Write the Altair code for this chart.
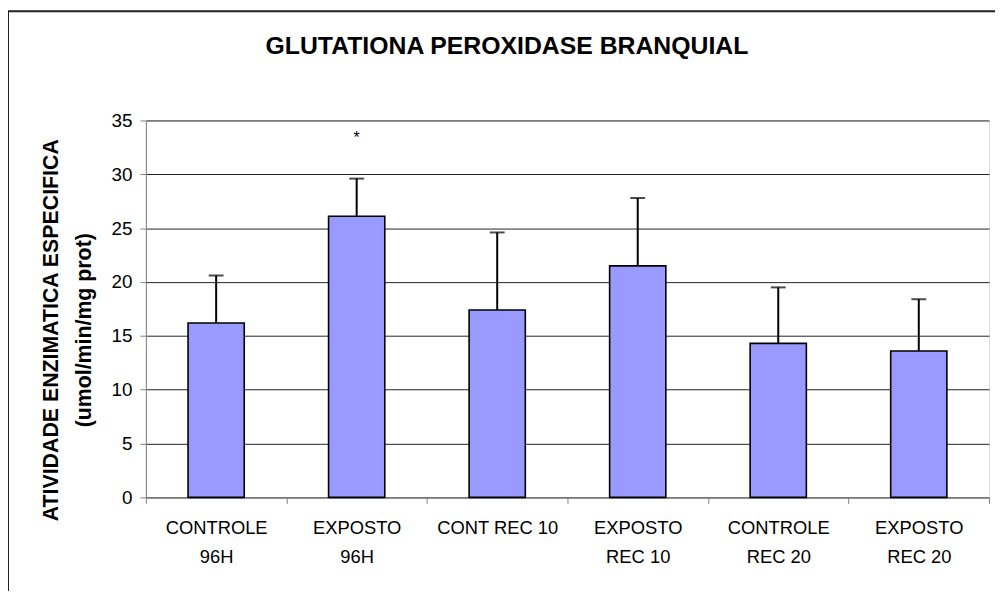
import altair as alt
import pandas as pd

title_text = ["GLUTATIONA PEROXIDASE BRANQUIAL"]
categories = ["CONTROLE|96H", "EXPOSTO|96H", "CONT REC 10", "EXPOSTO|REC 10", "CONTROLE|REC 20", "EXPOSTO|REC 20"]
means = [16.2, 26.1, 17.4, 21.5, 14.3, 13.6]
errors = [4.4, 3.5, 7.2, 6.3, 5.2, 4.8]
star_labels = ["", "*", "", "", "", ""]
star_y = [None, 33.4, None, None, None, None]

df = pd.DataFrame({"cat": categories, "mean": means, "err": errors})
df["top"] = df["mean"] + df["err"]
stars = pd.DataFrame({"cat": categories, "label": star_labels, "y": star_y}).dropna()

FONT = "Liberation Sans"

xenc = alt.X(
    "cat:N",
    sort=categories,
    title=None,
    scale=alt.Scale(paddingInner=0, paddingOuter=0),
    axis=alt.Axis(
        labelAngle=0,
        labelExpr="split(datum.label, '|')",
        labelFont=FONT,
        labelFontSize=18.5,
        labelColor="#000",
        labelLineHeight=30,
        labelPadding=15,
        tickBand="extent",
        tickSize=6,
        tickColor="#808080",
        domainColor="#808080",
        grid=False,
    ),
)

yscale = alt.Scale(domain=[0, 35], nice=False)

bars = alt.Chart(df).mark_bar(
    color="#9999FF", stroke="#000", strokeWidth=1.6, width=alt.RelativeBandSize(0.4)
).encode(
    x=xenc,
    y=alt.Y(
        "mean:Q",
        scale=yscale,
        title=["ATIVIDADE ENZIMATICA ESPECIFICA", "(umol/min/mg prot)"],
        axis=alt.Axis(
            values=[0, 5, 10, 15, 20, 25, 30, 35],
            labelFont=FONT,
            labelFontSize=19,
            labelColor="#000",
            labelPadding=8,
            tickSize=6,
            tickColor="#808080",
            domainColor="#808080",
            gridColor="#222",
            gridWidth=1,
            titleFont=FONT,
            titleFontSize=21.5,
            titleFontWeight="bold",
            titleColor="#000",
            titleLineHeight=33,
            titleAngle=-90,
            titleAlign="center",
            titleBaseline="middle",
            titleX=-95,
            titleY=211,
        ),
    ),
)

rules = alt.Chart(df).mark_rule(color="#000", strokeWidth=2).encode(
    x=alt.X("cat:N", sort=categories),
    y=alt.Y("mean:Q", scale=yscale),
    y2="top:Q",
)

caps = alt.Chart(df).mark_tick(color="#000", thickness=2, size=15).encode(
    x=alt.X("cat:N", sort=categories),
    y=alt.Y("top:Q", scale=yscale),
)

star = alt.Chart(stars).mark_text(font=FONT, fontSize=16, color="#000", baseline="middle").encode(
    x=alt.X("cat:N", sort=categories),
    y=alt.Y("y:Q", scale=yscale),
    text="label:N",
)

title_mark = alt.Chart(pd.DataFrame({"t": title_text})).mark_text(
    font=FONT, fontSize=25, fontWeight="bold", color="#000", align="center", baseline="alphabetic"
).encode(
    x=alt.value(364), y=alt.value(-67), text="t:N"
)

frame = alt.Chart(pd.DataFrame({"f": [0]})).mark_rect(
    fill="transparent", stroke="#222", strokeWidth=2
).encode(
    x=alt.value(-139), x2=alt.value(880), y=alt.value(-110), y2=alt.value(520)
)

chart = alt.layer(bars, rules, caps, star, title_mark, frame).properties(
    width=850,
    height=380,
    autosize=alt.AutoSizeParams(type="none"),
    padding={"left": 139, "top": 111, "right": 6, "bottom": 92},
).configure_view(strokeWidth=0).configure(background="white")

chart.save("out.html", embed_options={"renderer": "svg", "actions": False})
